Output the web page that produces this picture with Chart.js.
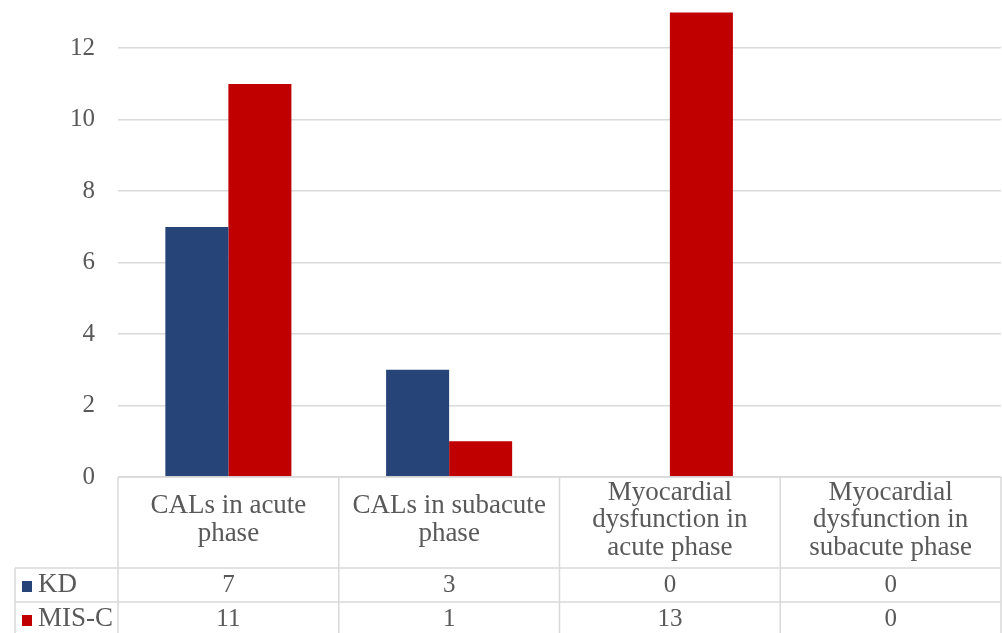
<!DOCTYPE html>
<html>
<head>
<meta charset="utf-8">
<script src="https://cdn.jsdelivr.net/npm/chart.js@4/dist/chart.umd.min.js"></script>
<style>
  html, body { margin: 0; padding: 0; background: #ffffff; }
  #wrap { width: 1002px; height: 633px; position: relative; }
</style>
</head>
<body>
<div id="wrap"><canvas id="chart" width="1002" height="633"></canvas></div>
<script>
// Category labels (wrapped into lines as shown in the data table header)
const categories = [
  ["CALs in acute", "phase"],
  ["CALs in subacute", "phase"],
  ["Myocardial", "dysfunction in", "acute phase"],
  ["Myocardial", "dysfunction in", "subacute phase"]
];
const seriesNames = ["KD", "MIS-C"];
const kdValues = [7, 3, 0, 0];
const miscValues = [11, 1, 13, 0];
const seriesColors = ["#264478", "#C00000"];
const yTicks = [0, 2, 4, 6, 8, 10, 12];

const FONT = "'Liberation Serif', 'DejaVu Serif', serif";
const TEXT_COLOR = "#595959";
const GRID_COLOR = "#d9d9d9";

// Data table drawn beneath the plot area, aligned with the category scale
const dataTablePlugin = {
  id: 'dataTable',
  afterDraw(chart) {
    const ctx = chart.ctx;
    const area = chart.chartArea;
    const xs = chart.scales.x;
    const n = categories.length;
    const colW = (area.right - area.left) / n;
    const top = area.bottom;
    const headerBottom = top + 91;
    const rowH = 34;
    const legendLeft = 15;
    const bottom = headerBottom + rowH * 2 + 2;
    const series = [kdValues, miscValues];

    ctx.save();
    ctx.strokeStyle = GRID_COLOR;
    ctx.lineWidth = 1.5;
    ctx.beginPath();
    // header top edge
    ctx.moveTo(area.left, top); ctx.lineTo(area.right, top);
    // row separators
    for (let r = 0; r < 2; r++) {
      const y = headerBottom + rowH * r;
      ctx.moveTo(legendLeft, y); ctx.lineTo(area.right, y);
    }
    // column separators
    for (let c = 0; c <= n; c++) {
      const x = area.left + colW * c;
      ctx.moveTo(x, top); ctx.lineTo(x, bottom);
    }
    // legend column left edge
    ctx.moveTo(legendLeft, headerBottom); ctx.lineTo(legendLeft, bottom);
    ctx.stroke();

    // header labels
    ctx.fillStyle = TEXT_COLOR;
    ctx.textAlign = 'center';
    ctx.textBaseline = 'middle';
    ctx.font = "27px " + FONT;
    const lineH = 27.5;
    const headerMid = top + 43;
    categories.forEach((lines, i) => {
      const cx = xs.getPixelForValue(i);
      const start = headerMid - (lines.length - 1) * lineH / 2;
      lines.forEach((t, k) => ctx.fillText(t, cx, start + k * lineH));
    });

    // series rows: legend key + values
    ctx.textBaseline = 'alphabetic';
    series.forEach((vals, r) => {
      const baseline = headerBottom + rowH * r + 24;
      ctx.fillStyle = seriesColors[r];
      ctx.fillRect(22, baseline - 11, 10, 11);
      ctx.fillStyle = TEXT_COLOR;
      ctx.textAlign = 'left';
      ctx.font = "27px " + FONT;
      ctx.fillText(seriesNames[r], 38, baseline);
      ctx.textAlign = 'center';
      ctx.font = "25px " + FONT;
      vals.forEach((v, i) => ctx.fillText(String(v), xs.getPixelForValue(i), baseline));
    });
    ctx.restore();
  }
};

new Chart(document.getElementById('chart'), {
  type: 'bar',
  data: {
    labels: categories.map(l => l.join(' ')),
    datasets: [
      { label: seriesNames[0], data: kdValues, backgroundColor: seriesColors[0] },
      { label: seriesNames[1], data: miscValues, backgroundColor: seriesColors[1] }
    ]
  },
  options: {
    responsive: false,
    animation: false,
    layout: { padding: { left: 0, right: 1, top: 0, bottom: 156 } },
    datasets: { bar: { categoryPercentage: 0.571, barPercentage: 1.0, borderWidth: 0 } },
    plugins: { legend: { display: false }, tooltip: { enabled: false } },
    scales: {
      x: { display: false },
      y: {
        min: 0,
        max: 13.35,
        afterFit(scale) { scale.width = 118; scale.paddingTop = 0; scale.paddingBottom = 0; },
        afterBuildTicks(scale) { scale.ticks = yTicks.map(v => ({ value: v })); },
        border: { display: false },
        grid: { color: GRID_COLOR, lineWidth: 1.5, drawTicks: false },
        ticks: {
          padding: 23,
          color: TEXT_COLOR,
          font: { family: FONT, size: 25 }
        }
      }
    }
  },
  plugins: [dataTablePlugin]
});
</script>
</body>
</html>
